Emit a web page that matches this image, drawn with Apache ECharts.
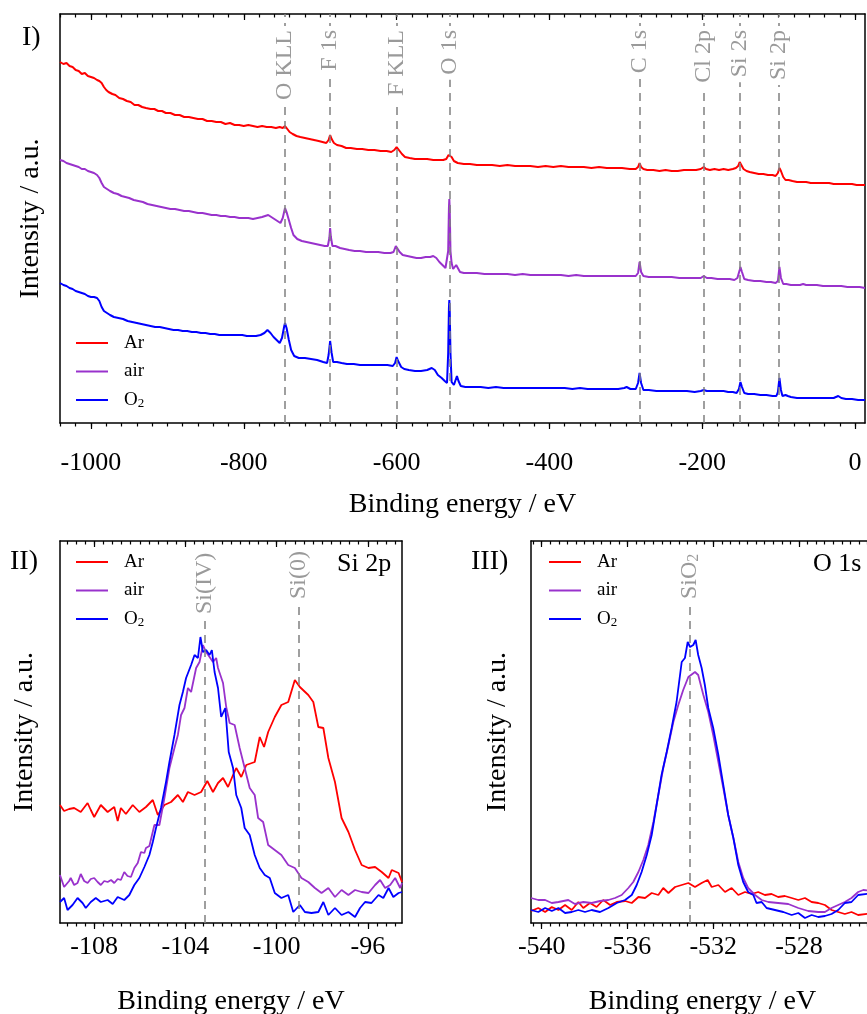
<!DOCTYPE html>
<html><head><meta charset="utf-8">
<script src="https://cdn.jsdelivr.net/npm/echarts@6/dist/echarts.min.js"></script>
<style>html,body{margin:0;padding:0;background:#fff}#c{width:867px;height:1014px}</style>
</head><body><div id="c"></div>
<script>
// ---------- DATA ----------
const seriesNames = ['Ar', 'air', 'O2'];
const seriesColors = ['#ff0000', '#9932cc', '#0000ff'];

// Panel I: survey spectra [binding energy (eV, negative), intensity (a.u.)]
const surveyAr = [[-1040.5,361],[-1036,359],[-1032,360],[-1028,357],[-1024,356],[-1020,353],[-1016,352],[-1012,349],[-1008,350],[-1004,347],[-1000,346],[-996,345],[-992,343],[-989,342],[-986,340],[-983,336],[-980,333],[-977,331],[-972,329],[-968,328],[-963,325],[-958,324],[-953,322],[-948,321],[-943,318],[-938,318],[-933,316],[-928,315],[-922,314],[-917,314],[-912,312],[-907,312],[-902,310],[-896,310],[-890,308],[-884,308],[-878,306],[-872,306],[-866,305],[-860,304],[-854,304],[-848,302],[-842,302],[-836,301],[-830,301],[-824,299],[-818,300],[-812,298],[-806,298],[-800,297],[-794,298],[-788,297],[-782,296],[-776,297],[-770,296],[-764,296],[-758,295],[-753,296],[-749,295],[-746,297],[-743,294],[-740,291],[-736,289],[-731,287],[-726,286],[-720,285],[-714,284],[-708,283],[-702,282],[-697,281],[-692,280],[-689,283],[-687,288],[-685,284],[-682,280],[-678,278],[-672,277],[-666,275],[-660,275],[-652,274],[-645,274],[-637,273],[-629,273],[-621,272],[-613,272],[-607,271],[-603,273],[-600,276],[-597,273],[-593,269],[-589,266],[-583,265],[-576,264],[-568,264],[-560,264],[-552,263],[-545,263],[-539,263],[-535,264],[-532,268],[-530,269],[-528,266],[-525,262],[-520,260],[-512,259],[-504,259],[-495,258],[-485,258],[-475,258],[-465,257],[-455,258],[-445,257],[-435,257],[-425,257],[-415,256],[-405,257],[-395,256],[-385,257],[-375,256],[-365,256],[-355,256],[-345,255],[-335,256],[-325,255],[-315,255],[-305,255],[-295,254],[-287,254],[-284,256],[-282,260],[-280,256],[-277,254],[-272,253],[-264,253],[-256,252],[-248,253],[-240,252],[-232,252],[-224,253],[-216,253],[-208,253],[-202,254],[-198,256],[-195,254],[-190,253],[-184,254],[-178,253],[-172,254],[-166,253],[-160,254],[-156,255],[-153,257],[-151,261],[-149,259],[-146,254],[-142,252],[-138,251],[-132,250],[-126,249],[-120,249],[-114,248],[-108,248],[-104,247],[-101,250],[-99,255],[-97,252],[-94,246],[-91,243],[-87,243],[-82,242],[-76,241],[-70,241],[-64,241],[-58,240],[-52,240],[-46,240],[-40,240],[-34,240],[-28,239],[-22,239],[-16,239],[-10,239],[-4,239],[2,238],[8,238],[13,238]];

const surveyAir = [[-1040.5,263],[-1036,262],[-1032,260],[-1028,259],[-1024,258],[-1020,257],[-1016,256],[-1012,254],[-1008,254],[-1004,252],[-1000,251],[-996,250],[-992,248],[-989,245],[-986,240],[-983,236],[-979,234],[-975,232],[-970,230],[-965,229],[-960,227],[-955,226],[-950,225],[-944,223],[-938,222],[-932,221],[-926,219],[-920,218],[-914,217],[-908,216],[-902,215],[-896,214],[-890,214],[-884,213],[-878,212],[-872,212],[-866,211],[-860,210],[-854,210],[-848,209],[-842,208],[-836,208],[-830,207],[-824,207],[-818,206],[-812,206],[-806,205],[-800,205],[-794,205],[-788,204],[-782,205],[-776,206],[-772,207],[-768,208],[-764,206],[-760,204],[-756,202],[-752,200],[-749,205],[-746,215],[-744,211],[-741,203],[-738,195],[-735,188],[-730,184],[-724,182],[-718,181],[-712,180],[-706,179],[-700,178],[-694,177],[-690,177],[-688,185],[-687,195],[-686,186],[-684,177],[-680,177],[-674,175],[-668,174],[-662,173],[-655,172],[-648,172],[-640,171],[-632,171],[-624,171],[-616,170],[-608,170],[-604,171],[-601,177],[-599,176],[-596,171],[-592,168],[-586,167],[-580,166],[-574,165],[-568,165],[-562,166],[-556,166],[-552,167],[-548,165],[-544,161],[-540,158],[-536,155],[-534,155],[-532.5,172],[-531.5,215],[-531,224],[-530.5,215],[-529.5,172],[-528,160],[-526,154],[-524,153],[-522,158],[-520,156],[-517,151],[-512,150],[-504,150],[-495,150],[-485,149],[-475,149],[-465,149],[-455,149],[-445,148],[-435,149],[-425,148],[-415,148],[-405,148],[-395,148],[-385,148],[-375,147],[-365,148],[-355,147],[-345,147],[-335,147],[-325,147],[-315,147],[-305,147],[-295,147],[-287,147],[-284,150],[-282,161],[-280,151],[-277,147],[-270,146],[-260,146],[-250,146],[-240,146],[-230,145],[-220,145],[-210,145],[-202,145],[-198,147],[-194,145],[-188,145],[-180,144],[-172,144],[-164,144],[-158,143],[-154,145],[-151,153],[-150,156],[-148,151],[-145,144],[-140,143],[-132,142],[-124,142],[-116,141],[-110,141],[-104,140],[-101,142],[-99,156],[-97,145],[-94,139],[-90,139],[-84,138],[-78,138],[-72,138],[-68,139],[-64,138],[-58,138],[-50,138],[-42,137],[-34,137],[-26,137],[-18,137],[-10,136],[-2,136],[6,136],[13,135]];

const surveyO2 = [[-1040.5,140],[-1036,138],[-1032,137],[-1028,135],[-1024,134],[-1020,132],[-1016,131],[-1012,130],[-1008,129],[-1004,127],[-1000,126],[-996,126],[-992,125],[-989,122],[-986,116],[-983,112],[-979,110],[-975,108],[-970,106],[-964,105],[-958,104],[-952,102],[-946,101],[-940,100],[-934,99],[-928,98],[-922,97],[-916,96],[-910,96],[-904,95],[-898,94],[-892,93],[-886,93],[-880,92],[-874,92],[-868,91],[-862,91],[-856,90],[-850,90],[-844,89],[-838,89],[-832,88],[-826,88],[-820,88],[-814,88],[-808,88],[-802,88],[-796,87],[-790,87],[-784,87],[-778,88],[-773,90],[-769,93],[-765,90],[-761,86],[-757,83],[-753,80],[-750,85],[-747,97],[-746,100],[-744,95],[-741,83],[-738,73],[-734,67],[-728,65],[-720,65],[-712,64],[-704,63],[-696,61],[-691,60],[-689,68],[-687,82],[-685,70],[-683,61],[-678,61],[-672,60],[-665,59],[-656,59],[-648,58],[-640,58],[-630,58],[-620,58],[-612,58],[-605,57],[-602,60],[-600,66],[-598,62],[-594,56],[-590,54],[-584,53],[-576,52],[-568,52],[-560,53],[-554,55],[-550,53],[-546,48],[-541,45],[-537,42],[-534,40],[-532.5,70],[-531.5,115],[-531,123],[-530.5,115],[-529.5,70],[-528,41],[-525,38],[-523,40],[-521,47],[-519,42],[-516,37],[-510,36],[-500,36],[-490,36],[-480,35],[-470,36],[-460,35],[-450,35],[-440,35],[-430,35],[-420,35],[-410,35],[-400,35],[-390,35],[-380,35],[-370,34],[-360,35],[-350,34],[-340,34],[-330,34],[-320,34],[-310,34],[-302,35],[-299,36],[-294,34],[-287,34],[-284,40],[-282,50],[-280,40],[-277,33],[-270,33],[-260,32],[-250,32],[-240,32],[-230,32],[-220,32],[-210,31],[-202,32],[-198,33],[-194,32],[-186,32],[-178,32],[-172,32],[-166,31],[-160,31],[-155,30],[-152,34],[-150,41],[-148,36],[-145,30],[-140,29],[-132,29],[-124,28],[-116,28],[-108,27],[-103,27],[-101,31],[-99,45],[-97,33],[-95,27],[-91,28],[-88,27],[-84,26],[-76,25],[-68,25],[-60,25],[-52,25],[-44,25],[-36,25],[-28,25],[-22,27],[-18,25],[-12,24],[-4,24],[4,23],[13,23]];

// Panel II: Si 2p
const si2pAr = [[-109.5,118],[-109.32,112],[-109.1,114],[-108.88,115],[-108.59,111],[-108.29,120],[-108.15,113],[-108,106],[-107.71,118],[-107.41,111],[-107.12,116],[-106.97,102],[-106.83,115],[-106.61,109],[-106.31,118],[-106.02,111],[-105.73,116],[-105.43,123],[-105.21,108],[-104.92,118],[-104.63,121],[-104.33,128],[-104.11,121],[-103.89,131],[-103.6,128],[-103.31,131],[-103.04,142],[-102.79,131],[-102.57,140],[-102.35,145],[-102.13,136],[-101.91,148],[-101.77,155],[-101.55,146],[-101.33,158],[-100.96,161],[-100.74,186],[-100.55,176],[-100.37,191],[-100.08,206],[-99.79,218],[-99.49,221],[-99.2,243],[-98.98,236],[-98.61,228],[-98.39,221],[-98.17,196],[-97.95,195],[-97.73,165],[-97.44,141],[-97.15,105],[-96.85,91],[-96.56,73],[-96.27,58],[-95.97,55],[-95.68,56],[-95.39,51],[-95.09,45],[-94.95,53],[-94.65,50],[-94.5,41]];
const si2pAir = [[-109.5,48],[-109.32,36],[-109.1,42],[-109.03,45],[-108.88,38],[-108.73,40],[-108.59,49],[-108.44,42],[-108.29,40],[-108.15,44],[-108,45],[-107.85,41],[-107.71,38],[-107.56,42],[-107.41,41],[-107.26,43],[-107.12,40],[-106.97,44],[-106.83,43],[-106.68,51],[-106.54,47],[-106.39,46],[-106.24,55],[-106.09,60],[-105.95,71],[-105.8,70],[-105.73,75],[-105.58,77],[-105.51,78],[-105.36,98],[-105.14,98],[-104.92,125],[-104.7,155],[-104.48,175],[-104.33,188],[-104.19,208],[-104.04,215],[-103.89,235],[-103.75,231],[-103.53,255],[-103.38,261],[-103.23,278],[-103.09,271],[-102.94,266],[-102.79,261],[-102.65,265],[-102.57,255],[-102.35,240],[-102.21,216],[-102.06,200],[-101.84,198],[-101.62,175],[-101.4,155],[-101.18,135],[-100.96,128],[-100.81,105],[-100.59,101],[-100.37,78],[-100.08,73],[-99.79,68],[-99.49,58],[-99.2,55],[-98.91,45],[-98.61,41],[-98.32,35],[-98.03,30],[-97.73,35],[-97.44,26],[-97.15,33],[-96.85,28],[-96.56,33],[-96.27,31],[-95.97,30],[-95.68,38],[-95.46,43],[-95.24,35],[-95.02,38],[-94.8,45],[-94.58,35],[-94.5,40]];
const si2pO2 = [[-109.5,21],[-109.32,25],[-109.17,13],[-108.95,18],[-108.73,25],[-108.51,20],[-108.37,15],[-108.15,21],[-107.93,25],[-107.71,21],[-107.41,23],[-107.19,19],[-106.97,26],[-106.68,23],[-106.46,28],[-106.24,38],[-106.02,45],[-105.8,56],[-105.58,68],[-105.43,81],[-105.29,95],[-105.07,115],[-104.85,141],[-104.7,161],[-104.48,188],[-104.26,218],[-104.11,231],[-103.97,245],[-103.75,258],[-103.6,268],[-103.45,265],[-103.34,286],[-103.23,271],[-103.09,273],[-102.94,268],[-102.84,273],[-102.72,251],[-102.57,235],[-102.43,206],[-102.25,215],[-102.1,171],[-101.91,155],[-101.77,128],[-101.55,115],[-101.4,95],[-101.18,88],[-100.96,68],[-100.74,55],[-100.52,48],[-100.3,45],[-100.08,30],[-99.79,25],[-99.49,28],[-99.27,11],[-98.98,18],[-98.76,11],[-98.47,10],[-98.17,11],[-97.95,21],[-97.73,8],[-97.44,15],[-97.15,8],[-96.85,11],[-96.56,6],[-96.34,15],[-96.12,21],[-95.84,20],[-95.53,28],[-95.32,25],[-95.09,35],[-94.88,26],[-94.65,30],[-94.5,31]];

// Panel III: O 1s
const o1sAr = [[-540.5,12],[-540.16,15],[-539.84,11],[-539.53,16],[-539.22,13],[-538.91,18],[-538.6,13],[-538.29,21],[-538.06,15],[-537.75,20],[-537.44,16],[-537.13,23],[-536.81,18],[-536.5,21],[-536.11,22],[-535.8,20],[-535.49,26],[-535.18,25],[-534.87,30],[-534.56,28],[-534.33,35],[-534.09,30],[-533.78,36],[-533.47,38],[-533.16,40],[-532.85,36],[-532.54,40],[-532.26,43],[-532.07,36],[-531.76,38],[-531.45,31],[-531.14,35],[-530.83,28],[-530.52,31],[-530.21,29],[-529.9,31],[-529.59,28],[-529.28,29],[-528.97,26],[-528.66,27],[-528.34,25],[-528.03,23],[-527.72,25],[-527.41,21],[-527.1,20],[-526.79,18],[-526.48,13],[-526.17,11],[-525.86,9],[-525.55,11],[-525.24,8],[-524.5,10]];
const o1sAir = [[-540.5,25],[-540.16,23],[-539.84,23],[-539.53,20],[-539.22,21],[-538.76,23],[-538.45,19],[-538.06,21],[-537.67,20],[-537.28,22],[-536.89,23],[-536.58,25],[-536.27,28],[-535.96,35],[-535.73,41],[-535.49,51],[-535.26,63],[-535.03,78],[-534.79,101],[-534.56,128],[-534.33,155],[-534.09,178],[-533.86,201],[-533.63,218],[-533.4,233],[-533.16,246],[-532.85,251],[-532.7,248],[-532.46,228],[-532.23,211],[-532,188],[-531.76,161],[-531.53,135],[-531.3,108],[-531.06,85],[-530.83,61],[-530.6,45],[-530.37,35],[-530.05,28],[-529.74,23],[-529.43,21],[-528.97,20],[-528.5,19],[-528.03,15],[-527.57,12],[-527.1,11],[-526.79,11],[-526.48,15],[-526.17,18],[-525.86,21],[-525.55,25],[-525.24,31],[-525,33],[-524.5,32]];
const o1sO2 = [[-540.5,13],[-540.16,11],[-539.84,15],[-539.53,12],[-539.22,15],[-538.91,10],[-538.6,11],[-538.29,13],[-537.98,11],[-537.67,13],[-537.28,11],[-536.89,15],[-536.5,20],[-536.11,23],[-535.8,28],[-535.57,38],[-535.34,51],[-535.1,68],[-534.87,88],[-534.64,118],[-534.41,148],[-534.17,171],[-533.94,195],[-533.71,221],[-533.47,261],[-533.32,265],[-533.19,281],[-533.08,276],[-532.93,278],[-532.82,283],[-532.7,268],[-532.54,255],[-532.39,238],[-532.23,215],[-532,195],[-531.76,168],[-531.53,138],[-531.3,108],[-531.06,85],[-530.83,58],[-530.6,41],[-530.37,31],[-530.13,28],[-529.98,20],[-529.74,21],[-529.51,15],[-529.12,13],[-528.73,11],[-528.34,8],[-528.03,10],[-527.72,5],[-527.41,8],[-527.1,6],[-526.79,7],[-526.48,9],[-526.17,13],[-525.86,20],[-525.55,21],[-525.24,28],[-524.5,30]];

// Reference lines (peak assignments)
const surveyPeakNames = ['O KLL', 'F 1s', 'F KLL', 'O 1s', 'C 1s', 'Cl 2p', 'Si 2s', 'Si 2p'];
const surveyPeakEnergies = [-746, -687, -600, -531, -282, -198, -150.5, -99.5];
const si2pPeakNames = ['Si(IV)', 'Si(0)'];
const si2pPeakEnergies = [-103.15, -99.05];
const si2pPeakLineTops = [303, 318];
const o1sPeakNames = ['SiO{sub|2}'];
const o1sPeakEnergies = [-533.1];
const o1sPeakLineTops = [318];

// Axis ticks / labels
const surveyTicks = [-1000, -800, -600, -400, -200, 0];
const si2pTicks = [-108, -104, -100, -96];
const o1sTicks = [-540, -536, -532, -528];

// ---------- CHART ----------
const FONT = 'Liberation Serif';
function minorList(from, to, step) {
  const out = [];
  for (let v = from; v <= to + 1e-9; v += step) out.push(Math.round(v * 100) / 100);
  return out;
}
const surveyMinor = minorList(-1040, 0, 20);
const si2pMinor = minorList(-109.2, -94.8, 0.4);
const o1sMinor = minorList(-540.4, -524.8, 0.4);

const axisLineStyle = { color: '#000', width: 1.5 };
const tickStyle = { color: '#000', width: 1.2 };

function makeXAxes(gi, min, max, major, minor, labelMargin, nameGap) {
  const base = { type: 'value', gridIndex: gi, min: min, max: max, splitLine: { show: false } };
  return [
    Object.assign({}, base, {
      position: 'bottom', name: 'Binding energy / eV', nameLocation: 'middle', nameGap: nameGap,
      nameTextStyle: { fontFamily: FONT, fontSize: 28, color: '#000' },
      axisLine: { show: true, onZero: false, lineStyle: axisLineStyle },
      axisTick: { show: true, inside: false, length: 6, lineStyle: tickStyle, customValues: major },
      axisLabel: { show: true, margin: labelMargin, fontFamily: FONT, fontSize: 26, color: '#000',
        customValues: major, formatter: function (v) { return String(v); } }
    }),
    Object.assign({}, base, {
      position: 'bottom', axisLine: { show: false, onZero: false },
      axisTick: { show: true, inside: false, length: 3.5, lineStyle: tickStyle, customValues: minor },
      axisLabel: { show: false }
    }),
    Object.assign({}, base, {
      position: 'top', axisLine: { show: true, onZero: false, lineStyle: axisLineStyle },
      axisTick: { show: true, inside: true, length: 6, lineStyle: tickStyle, customValues: major },
      axisLabel: { show: false }
    }),
    Object.assign({}, base, {
      position: 'top', axisLine: { show: false, onZero: false },
      axisTick: { show: true, inside: true, length: 3.5, lineStyle: tickStyle, customValues: minor },
      axisLabel: { show: false }
    })
  ];
}
function makeYAxes(gi, max, nameGap) {
  return [
    { type: 'value', gridIndex: gi, min: 0, max: max, position: 'left',
      name: 'Intensity / a.u.', nameLocation: 'middle', nameGap: nameGap, nameRotate: 90,
      nameTextStyle: { fontFamily: FONT, fontSize: 28, color: '#000' },
      axisLine: { show: true, onZero: false, lineStyle: axisLineStyle },
      axisTick: { show: false }, axisLabel: { show: false }, splitLine: { show: false } },
    { type: 'value', gridIndex: gi, min: 0, max: max, position: 'right',
      axisLine: { show: true, onZero: false, lineStyle: axisLineStyle },
      axisTick: { show: false }, axisLabel: { show: false }, splitLine: { show: false } }
  ];
}

const xAxes = [].concat(
  makeXAxes(0, -1040.5, 13, surveyTicks, surveyMinor, 27, 68),
  makeXAxes(1, -109.5, -94.5, si2pTicks, si2pMinor, 11, 65),
  makeXAxes(2, -540.5, -524.5, o1sTicks, o1sMinor, 11, 65)
);
const yAxes = [].concat(makeYAxes(0, 409, 15), makeYAxes(1, 382, 21), makeYAxes(2, 382, 19));

const panelData = [[surveyAr, surveyAir, surveyO2], [si2pAr, si2pAir, si2pO2], [o1sAr, o1sAir, o1sO2]];
const lineWidths = [2, 1.8, 1.8];
const series = [];
const labelBase = { fontFamily: FONT, fontSize: 24, color: '#9a9a9a',
  rich: { sub: { fontFamily: FONT, fontSize: 16, color: '#9a9a9a', verticalAlign: 'bottom', lineHeight: 16 } } };
const dashStyle = { type: [8, 6], color: '#808080', width: 1.5 };

// reference lines - survey
series.push({ type: 'line', name: 'ref0', data: [], xAxisIndex: 0, yAxisIndex: 0, z: 1, silent: true,
  markLine: { symbol: ['none', 'none'], silent: true, animation: false, lineStyle: dashStyle,
    label: Object.assign({ show: true, position: 'insideEnd', distance: 12, formatter: '{b}',
      backgroundColor: '#fff', padding: [0, 4, 0, 5] }, labelBase),
    data: surveyPeakEnergies.map(function (e, i) { return { xAxis: e, name: surveyPeakNames[i] }; }) } });
// reference lines - detail panels
function detailRefs(gi, energies, names, tops) {
  return { type: 'line', name: 'ref' + gi, data: [], xAxisIndex: gi * 4, yAxisIndex: gi * 2, z: 1, silent: true,
    markLine: { symbol: ['none', 'none'], silent: true, animation: false, lineStyle: dashStyle,
      label: Object.assign({ show: true, position: 'insideEnd', align: 'left', distance: -6 }, labelBase),
      data: energies.map(function (e, i) {
        return [{ coord: [e, 0] }, { coord: [e, tops[i]], label: { formatter: names[i] } }];
      }) } };
}
series.push(detailRefs(1, si2pPeakEnergies, si2pPeakNames, si2pPeakLineTops));
series.push(detailRefs(2, o1sPeakEnergies, o1sPeakNames, o1sPeakLineTops));

panelData.forEach(function (arrs, gi) {
  arrs.forEach(function (d, si) {
    series.push({ type: 'line', name: seriesNames[si], data: d, xAxisIndex: gi * 4, yAxisIndex: gi * 2,
      showSymbol: false, symbol: 'none', z: 2, clip: true,
      itemStyle: { color: seriesColors[si] },
      lineStyle: { color: seriesColors[si], width: lineWidths[gi] } });
  });
});

function makeLegend(left, top) {
  return { orient: 'vertical', left: left, top: top, itemWidth: 32, itemHeight: 2, icon: 'rect',
    itemGap: 8.5, selectedMode: false, data: seriesNames, padding: 0,
    formatter: function (n) { return n === 'O2' ? 'O{sub|2}' : n; },
    textStyle: { fontFamily: FONT, fontSize: 19, color: '#000', lineHeight: 20, padding: [0, 0, 0, 11],
      rich: { sub: { fontFamily: FONT, fontSize: 13, color: '#000', verticalAlign: 'bottom', lineHeight: 14 } } } };
}

const titleStyle = { fontFamily: FONT, fontSize: 28, fontWeight: 'normal', color: '#000' };
const option = {
  animation: false,
  backgroundColor: '#fff',
  grid: [
    { left: 60, top: 14, width: 805, height: 409, outerBoundsMode: 'none', containLabel: false },
    { left: 60, top: 541, width: 342, height: 382, outerBoundsMode: 'none', containLabel: false },
    { left: 531, top: 541, width: 343, height: 382, outerBoundsMode: 'none', containLabel: false }
  ],
  title: [
    { text: 'I)', left: 22, top: 24, padding: 0, textStyle: titleStyle },
    { text: 'II)', left: 10, top: 548, padding: 0, textStyle: titleStyle },
    { text: 'III)', left: 471, top: 548, padding: 0, textStyle: titleStyle },
    { text: 'Si 2p', left: 337, top: 551, padding: 0, textStyle: Object.assign({}, titleStyle, { fontSize: 26 }) },
    { text: 'O 1s', left: 813, top: 551, padding: 0, textStyle: Object.assign({}, titleStyle, { fontSize: 26 }) }
  ],
  legend: [makeLegend(76, 333), makeLegend(76, 552), makeLegend(549, 552)],
  xAxis: xAxes,
  yAxis: yAxes,
  series: series
};
const chart = echarts.init(document.getElementById('c'), null, { renderer: 'canvas' });
chart.setOption(option);
</script></body></html>
